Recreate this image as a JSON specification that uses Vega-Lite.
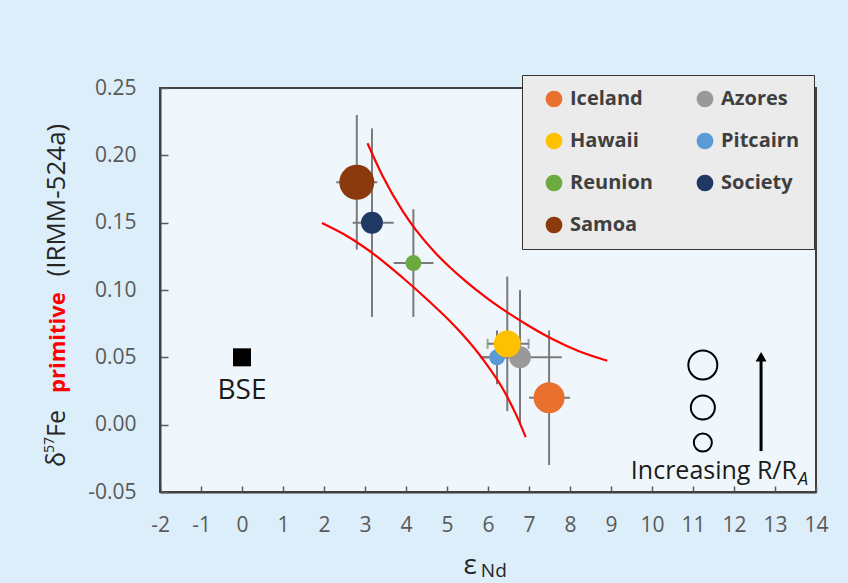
{
  "$schema": "https://vega.github.io/schema/vega-lite/v6.json",
  "width": 656,
  "height": 404,
  "autosize": {"type": "none"},
  "padding": {"left": 160, "top": 88, "right": 32, "bottom": 91},
  "background": "#dbeefa",
  "config": {
    "font": "Open Sans",
    "view": {"fill": "#f0f7fc", "stroke": "#404040", "strokeWidth": 2},
    "axis": {
      "domainColor": "#404040",
      "domainWidth": 2,
      "tickColor": "#595959",
      "tickWidth": 1.5,
      "grid": false,
      "labelFont": "Open Sans",
      "labelFontSize": 21,
      "labelColor": "#595959",
      "labelFlush": false
    }
  },
  "datasets": {
    "hotspots": [
      {"name": "Samoa", "x": 2.8, "y": 0.18, "xlo": 2.3, "xhi": 3.3, "ylo": 0.13, "yhi": 0.23, "ra": 35},
      {"name": "Society", "x": 3.17, "y": 0.15, "xlo": 2.7, "xhi": 3.7, "ylo": 0.08, "yhi": 0.22, "ra": 13.8},
      {"name": "Reunion", "x": 4.18, "y": 0.12, "xlo": 3.7, "xhi": 4.67, "ylo": 0.08, "yhi": 0.16, "ra": 7.3},
      {"name": "Pitcairn", "x": 6.22, "y": 0.05, "xlo": 5.85, "xhi": 6.5, "ylo": 0.03, "yhi": 0.07, "ra": 7.3},
      {"name": "Azores", "x": 6.78, "y": 0.05, "xlo": 5.8, "xhi": 7.8, "ylo": 0.0, "yhi": 0.1, "ra": 13.8},
      {"name": "Hawaii", "x": 6.47, "y": 0.06, "xlo": 5.99, "xhi": 6.99, "ylo": 0.01, "yhi": 0.11, "ra": 20.8},
      {"name": "Iceland", "x": 7.49, "y": 0.02, "xlo": 7.0, "xhi": 8.0, "ylo": -0.03, "yhi": 0.07, "ra": 27.5}
    ],
    "curves": [
      {"curve": "upper", "x": 3.06, "y": 0.209},
      {"curve": "upper", "x": 3.43, "y": 0.1846},
      {"curve": "upper", "x": 3.92, "y": 0.1585},
      {"curve": "upper", "x": 4.24, "y": 0.1446},
      {"curve": "upper", "x": 4.73, "y": 0.1271},
      {"curve": "upper", "x": 5.05, "y": 0.1175},
      {"curve": "upper", "x": 5.46, "y": 0.1064},
      {"curve": "upper", "x": 5.95, "y": 0.0945},
      {"curve": "upper", "x": 6.52, "y": 0.0824},
      {"curve": "upper", "x": 7.0, "y": 0.0733},
      {"curve": "upper", "x": 7.57, "y": 0.0636},
      {"curve": "upper", "x": 8.22, "y": 0.0545},
      {"curve": "upper", "x": 8.91, "y": 0.0475},
      {"curve": "lower", "x": 1.95, "y": 0.1497},
      {"curve": "lower", "x": 2.62, "y": 0.139},
      {"curve": "lower", "x": 3.27, "y": 0.1254},
      {"curve": "lower", "x": 3.92, "y": 0.1091},
      {"curve": "lower", "x": 4.49, "y": 0.0937},
      {"curve": "lower", "x": 5.05, "y": 0.0775},
      {"curve": "lower", "x": 5.38, "y": 0.0669},
      {"curve": "lower", "x": 5.87, "y": 0.0488},
      {"curve": "lower", "x": 6.35, "y": 0.0272},
      {"curve": "lower", "x": 6.68, "y": 0.0078},
      {"curve": "lower", "x": 6.92, "y": -0.0093}
    ],
    "rakey": [
      {"x": 11.24, "y": 0.0443, "ra": 24},
      {"x": 11.24, "y": 0.0128, "ra": 16.5},
      {"x": 11.24, "y": -0.0133, "ra": 9.3}
    ],
    "bse": [
      {"name": "BSE", "x": 0, "y": 0.05}
    ],
    "anno": [
      {"id": 1}
    ]
  },
  "layer": [
    {
      "data": {"name": "hotspots"},
      "mark": {"type": "rule", "color": "#7a7a7a", "strokeWidth": 2},
      "encoding": {
        "x": {
          "field": "xlo",
          "type": "quantitative",
          "scale": {"domain": [-2, 14], "nice": false, "zero": false},
          "axis": {
            "title": null,
            "values": [-2, -1, 0, 1, 2, 3, 4, 5, 6, 7, 8, 9, 10, 11, 12, 13, 14],
            "labelExpr": "datum.value < 0 ? '-' + format(abs(datum.value), 'd') : format(datum.value, 'd')",
            "tickSize": -6,
            "labelPadding": 28
          }
        },
        "x2": {"field": "xhi"},
        "y": {
          "field": "y",
          "type": "quantitative",
          "scale": {"domain": [-0.05, 0.25], "nice": false, "zero": false},
          "axis": {
            "title": null,
            "values": [-0.05, 0, 0.05, 0.1, 0.15, 0.2, 0.25],
            "labelExpr": "datum.value < 0 ? '-' + format(abs(datum.value), '.2f') : format(datum.value, '.2f')",
            "tickSize": -8,
            "labelPadding": 32
          }
        }
      }
    },
    {
      "data": {"name": "hotspots"},
      "mark": {"type": "rule", "color": "#7a7a7a", "strokeWidth": 2},
      "encoding": {
        "x": {"field": "x", "type": "quantitative"},
        "y": {"field": "ylo", "type": "quantitative"},
        "y2": {"field": "yhi"}
      }
    },
    {
      "data": {"name": "hotspots"},
      "transform": [
        {"filter": "datum.name === 'Hawaii'"},
        {"fold": ["xlo", "xhi"], "as": ["end", "xe"]}
      ],
      "mark": {"type": "tick", "orient": "vertical", "color": "#7a7a7a", "size": 10, "thickness": 2},
      "encoding": {
        "x": {"field": "xe", "type": "quantitative"},
        "y": {"field": "y", "type": "quantitative"}
      }
    },
    {
      "data": {"name": "curves"},
      "mark": {"type": "line", "color": "#ff0000", "strokeWidth": 2.2, "interpolate": "monotone"},
      "encoding": {
        "x": {"field": "x", "type": "quantitative"},
        "y": {"field": "y", "type": "quantitative"},
        "detail": {"field": "curve"}
      }
    },
    {
      "data": {"name": "hotspots"},
      "mark": {"type": "circle", "opacity": 1},
      "encoding": {
        "x": {"field": "x", "type": "quantitative"},
        "y": {"field": "y", "type": "quantitative"},
        "color": {
          "field": "name",
          "type": "nominal",
          "scale": {
            "domain": ["Iceland", "Hawaii", "Reunion", "Samoa", "Azores", "Pitcairn", "Society"],
            "range": ["#ea7030", "#ffc000", "#6aaa3e", "#8b3a0e", "#999999", "#5b9bd5", "#1f3864"]
          },
          "legend": {
            "title": null,
            "orient": "none",
            "legendX": 362,
            "legendY": -13,
            "columns": 2,
            "gridAlign": "all",
            "padding": 14,
            "rowPadding": 22,
            "columnPadding": 34,
            "symbolType": "circle",
            "symbolSize": 280,
            "symbolStrokeWidth": 0,
            "symbolOffset": 8,
            "labelFont": "Open Sans",
            "labelFontSize": 20,
            "labelFontWeight": "bold",
            "labelColor": "#3f3f3f",
            "labelOffset": 6,
            "fillColor": "#ebebeb",
            "strokeColor": "#333333",
            "encode": {"legend": {"update": {"strokeWidth": {"value": 2}}}}
          }
        },
        "size": {
          "field": "ra",
          "type": "quantitative",
          "scale": {"domain": [0, 35], "range": [0, 1225]},
          "legend": null
        }
      }
    },
    {
      "data": {"name": "rakey"},
      "mark": {"type": "point", "filled": false, "color": "#000000", "strokeWidth": 2, "opacity": 1},
      "encoding": {
        "x": {"field": "x", "type": "quantitative"},
        "y": {"field": "y", "type": "quantitative"},
        "size": {
          "field": "ra",
          "type": "quantitative",
          "scale": {"domain": [0, 35], "range": [0, 1225]},
          "legend": null
        }
      }
    },
    {
      "data": {"name": "anno"},
      "mark": {"type": "rule", "color": "#000000", "strokeWidth": 3},
      "encoding": {
        "x": {"datum": 12.66},
        "y": {"datum": -0.0196},
        "y2": {"datum": 0.049}
      }
    },
    {
      "data": {"name": "anno"},
      "mark": {"type": "point", "shape": "triangle-up", "filled": true, "color": "#000000", "size": 120, "opacity": 1},
      "encoding": {
        "x": {"datum": 12.66},
        "y": {"datum": 0.0505}
      }
    },
    {
      "data": {"name": "bse"},
      "mark": {"type": "square", "color": "#000000", "size": 324, "opacity": 1},
      "encoding": {
        "x": {"field": "x", "type": "quantitative"},
        "y": {"field": "y", "type": "quantitative"}
      }
    },
    {
      "data": {"name": "bse"},
      "mark": {"type": "text", "fontSize": 28, "color": "#1a1a1a", "dy": 42, "baseline": "alphabetic", "align": "center"},
      "encoding": {
        "x": {"field": "x", "type": "quantitative"},
        "y": {"field": "y", "type": "quantitative"},
        "text": {"field": "name"}
      }
    },
    {
      "data": {"name": "anno"},
      "mark": {"type": "text", "text": "Increasing R/R", "fontSize": 25, "color": "#1a1a1a", "align": "right", "baseline": "alphabetic"},
      "encoding": {
        "x": {"datum": 13.535},
        "y": {"datum": -0.0405}
      }
    },
    {
      "data": {"name": "anno"},
      "mark": {"type": "text", "text": "A", "fontSize": 18, "fontStyle": "italic", "color": "#1a1a1a", "align": "left", "baseline": "alphabetic"},
      "encoding": {
        "x": {"datum": 13.56},
        "y": {"datum": -0.0451}
      }
    },
    {
      "data": {"name": "anno"},
      "mark": {"type": "text", "text": "δ", "angle": 270, "fontSize": 25, "color": "#262626", "align": "left", "baseline": "alphabetic"},
      "encoding": {"x": {"datum": -4.318}, "y": {"datum": -0.0315}}
    },
    {
      "data": {"name": "anno"},
      "mark": {"type": "text", "text": "57", "angle": 270, "fontSize": 14, "color": "#262626", "align": "left", "baseline": "alphabetic"},
      "encoding": {"x": {"datum": -4.574}, "y": {"datum": -0.021}}
    },
    {
      "data": {"name": "anno"},
      "mark": {"type": "text", "text": "Fe", "angle": 270, "fontSize": 25, "color": "#262626", "align": "left", "baseline": "alphabetic"},
      "encoding": {"x": {"datum": -4.318}, "y": {"datum": -0.0091}}
    },
    {
      "data": {"name": "anno"},
      "mark": {"type": "text", "text": "primitive", "angle": 270, "fontSize": 22, "fontWeight": "bold", "color": "#ff0000", "align": "left", "baseline": "alphabetic"},
      "encoding": {"x": {"datum": -4.318}, "y": {"datum": 0.0236}}
    },
    {
      "data": {"name": "anno"},
      "mark": {"type": "text", "text": "(IRMM-524a)", "angle": 270, "fontSize": 26, "color": "#262626", "align": "left", "baseline": "alphabetic"},
      "encoding": {"x": {"datum": -4.318}, "y": {"datum": 0.110}}
    },
    {
      "data": {"name": "anno"},
      "mark": {"type": "text", "text": "ε", "fontSize": 28, "color": "#262626", "align": "left", "baseline": "alphabetic"},
      "encoding": {"x": {"datum": 5.4}, "y": {"datum": -0.1108}}
    },
    {
      "data": {"name": "anno"},
      "mark": {"type": "text", "text": "Nd", "fontSize": 19, "color": "#262626", "align": "left", "baseline": "alphabetic"},
      "encoding": {"x": {"datum": 5.826}, "y": {"datum": -0.1128}}
    }
  ]
}
